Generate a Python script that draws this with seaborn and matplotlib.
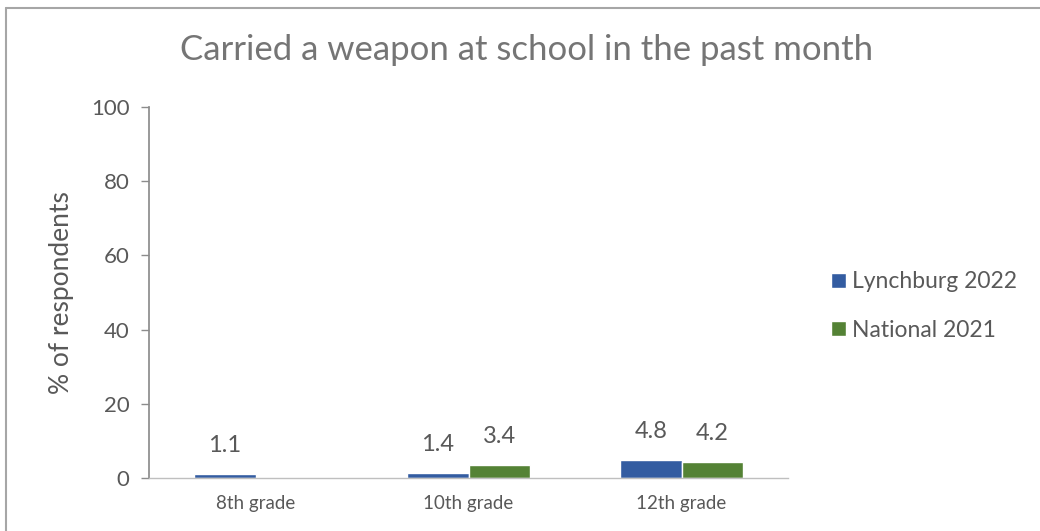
import pandas as pd
import matplotlib.pyplot as plt
import seaborn as sns
from matplotlib.lines import Line2D

sns.set_theme(style="white")
plt.rcParams['font.family'] = ['Lato', 'DejaVu Sans']

# Dados
grades = ['8th grade', '10th grade', '12th grade']
lynchburg_2022 = [1.1, 1.4, 4.8]
national_2021 = [None, 3.4, 4.2]
series_names = ['Lynchburg 2022', 'National 2021']
colors = ['#335CA1', '#548235']
y_ticks = [0, 20, 40, 60, 80, 100]

data = pd.DataFrame({
    'grade': grades * 2,
    'value': lynchburg_2022 + national_2021,
    'series': [series_names[0]] * 3 + [series_names[1]] * 3,
})

text_color = '#595959'

fig = plt.figure(figsize=(10.4, 5.31), dpi=100)
ax = fig.add_axes([149 / 1040, 1 - 478 / 531, (788 - 149) / 1040, (478 - 107) / 531])

sns.barplot(data=data, x='grade', y='value', hue='series', palette=colors,
            width=0.573, dodge=True, ax=ax, legend=True, saturation=1)

ax.set_ylim(0, 100)
ax.set_xlim(-0.5, 2.5)
ax.set_yticks(y_ticks)
ax.set_yticklabels([str(t) for t in y_ticks], fontsize=16, color=text_color)
ax.tick_params(axis='x', labelsize=13.5, labelcolor=text_color, length=0, pad=12)
ax.tick_params(axis='y', length=6, width=1, color='#8c8c8c', direction='out', left=True, pad=8)
ax.set_xlabel('')
ax.set_ylabel('% of respondents', fontsize=19, color=text_color, labelpad=12)

for side in ['top', 'right']:
    ax.spines[side].set_visible(False)
ax.spines['left'].set_color('#8c8c8c')
ax.spines['bottom'].set_color('#bfbfbf')
ax.spines['bottom'].set_linewidth(1)

# Rótulos de dados
for container in ax.containers:
    labels = ['' if pd.isna(v) else f'{v:.1f}' for v in container.datavalues]
    ax.bar_label(container, labels=labels, padding=13, fontsize=17, color=text_color)

# Legenda
handles, labels = ax.get_legend_handles_labels()
ax.legend(handles, labels, loc='center left', bbox_to_anchor=(810 / 1040, 1 - 306 / 531),
          bbox_transform=fig.transFigure, frameon=False, fontsize=16.5,
          labelcolor=text_color, handlelength=0.65, handleheight=0.65,
          handletextpad=0.3, labelspacing=1.2)

fig.suptitle('Carried a weapon at school in the past month', x=0.506, y=1 - 50 / 531,
             va='center', fontsize=25, color='#757575')

# Borda do gráfico
fig.add_artist(Line2D([6 / 1040, 1], [1 - 8 / 531, 1 - 8 / 531], color='#a6a6a6', lw=1.5,
                      transform=fig.transFigure))
fig.add_artist(Line2D([6 / 1040, 6 / 1040], [0, 1 - 8 / 531], color='#a6a6a6', lw=1.5,
                      transform=fig.transFigure))

fig.savefig('out.png', dpi=100)
